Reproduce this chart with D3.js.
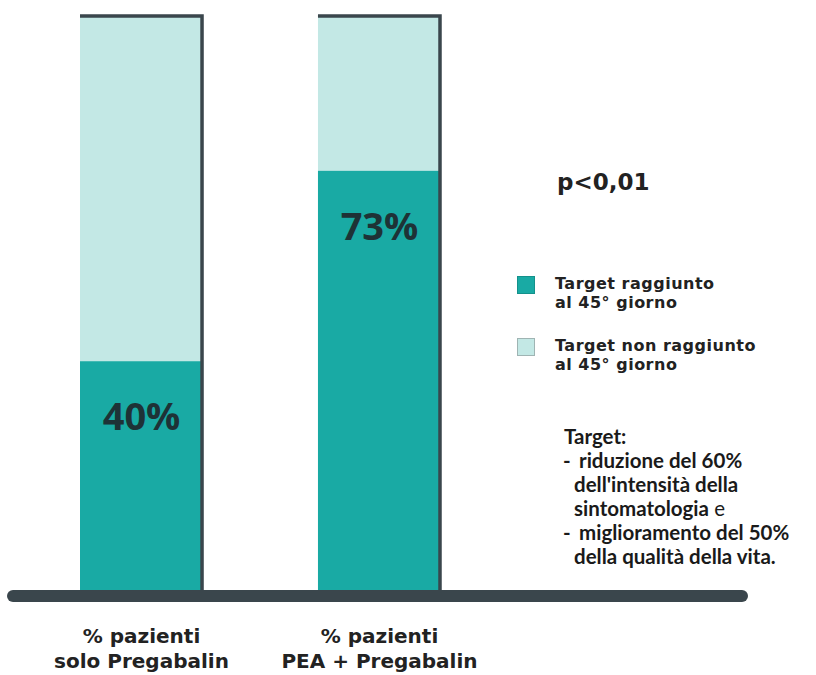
<!DOCTYPE html>
<html><head><meta charset="utf-8">
<script src="https://cdn.jsdelivr.net/npm/d3@7"></script>
<style>
html,body{margin:0;padding:0;background:#fff;}
svg{display:block;}
</style></head>
<body>
<svg id="chart" width="816" height="675"></svg>
<script>
const categories = ["solo Pregabalin", "PEA + Pregabalin"];
const catLine1 = ["% pazienti", "% pazienti"];
const reached = [40, 73];
const notReached = [60, 27];
const valueLabels = ["40%", "73%"];
const legendLabels = [["Target raggiunto", "al 45° giorno"], ["Target non raggiunto", "al 45° giorno"]];
const pValue = "p<0,01";
const noteLines = [
  {dash:"", text:"Target:", extra:""},
  {dash:"-", text:"riduzione del 60%", extra:""},
  {dash:"", text:"dell'intensità della", extra:""},
  {dash:"", text:"sintomatologia", extra:" e"},
  {dash:"-", text:"miglioramento del 50%", extra:""},
  {dash:"", text:"della qualità della vita.", extra:""}
];

const colReached = "#19aaa4";
const colNot = "#c3e8e5";
const dark = "#3a464c";
const textDark = "#1e3236";

const svg = d3.select("#chart");
const x = d3.scaleBand().domain(categories).range([80, 441]).paddingInner(0.483).paddingOuter(0);
const y = d3.scaleLinear().domain([0, 100]).range([592, 15]);

const g = svg.append("g");
categories.forEach((c, i) => {
  g.append("rect").attr("x", x(c)).attr("width", x.bandwidth())
    .attr("y", y(reached[i] + notReached[i])).attr("height", y(reached[i]) - y(reached[i] + notReached[i]))
    .attr("fill", colNot);
  g.append("rect").attr("x", x(c)).attr("width", x.bandwidth())
    .attr("y", y(reached[i])).attr("height", y(0) - y(reached[i]))
    .attr("fill", colReached);
  const top = y(reached[i] + notReached[i]);
  g.append("path")
    .attr("d", `M${x(c)},${top + 1}H${x(c) + x.bandwidth() - 1}V${y(0)}`)
    .attr("fill", "none").attr("stroke", dark).attr("stroke-width", 3.5);
  g.append("text").attr("x", x(c) + x.bandwidth() / 2).attr("y", y(reached[i]) + 69)
    .attr("text-anchor", "middle").attr("font-family", "Open Sans").attr("font-weight", 700)
    .attr("font-size", 38).attr("fill", textDark).text(valueLabels[i]);
  const lab = svg.append("text").attr("text-anchor", "middle").attr("font-family", "DejaVu Sans")
    .attr("font-weight", 700).attr("font-size", 20).attr("fill", "#222");
  lab.append("tspan").attr("x", x(c) + x.bandwidth() / 2).attr("y", 643).text(catLine1[i]);
  lab.append("tspan").attr("x", x(c) + x.bandwidth() / 2).attr("y", 668).text(c);
});

svg.append("line").attr("x1", 13).attr("x2", 742).attr("y1", y(0) + 4).attr("y2", y(0) + 4)
  .attr("stroke", dark).attr("stroke-width", 12).attr("stroke-linecap", "round");

svg.append("text").attr("x", 557).attr("y", 190).attr("font-family", "DejaVu Sans")
  .attr("font-weight", 700).attr("font-size", 23).attr("fill", "#222").text(pValue);

const legCols = [colReached, colNot];
const legStroke = ["#14918b", "#9fb4b3"];
legendLabels.forEach((l, i) => {
  const ly = 276 + i * 62;
  svg.append("rect").attr("x", 517.5).attr("y", ly + 0.5).attr("width", 17).attr("height", 17)
    .attr("fill", legCols[i]).attr("stroke", legStroke[i]).attr("stroke-width", 1);
  const t = svg.append("text").attr("font-family", "DejaVu Sans").attr("font-weight", 700)
    .attr("font-size", 16).attr("fill", "#222").attr("letter-spacing", 0.5);
  t.append("tspan").attr("x", 555).attr("y", ly + 13).text(l[0]);
  t.append("tspan").attr("x", 555).attr("y", ly + 32).text(l[1]);
});

noteLines.forEach((d, i) => {
  const ty = 444 + i * 24;
  const t = svg.append("text").attr("font-family", "Lato").attr("font-weight", 700)
    .attr("font-size", 20.5).attr("fill", "#1a1a1a").attr("y", ty);
  if (i === 0) {
    t.attr("x", 564).text(d.text);
  } else {
    if (d.dash) svg.append("text").attr("x", 563).attr("y", ty).attr("font-family", "Lato")
      .attr("font-weight", 700).attr("font-size", 20.5).attr("fill", "#1a1a1a").text(d.dash);
    t.attr("x", d.dash ? 579 : 574);
    t.append("tspan").text(d.text);
    if (d.extra) t.append("tspan").attr("font-weight", 400).text(d.extra);
  }
});
</script>
</body></html>
